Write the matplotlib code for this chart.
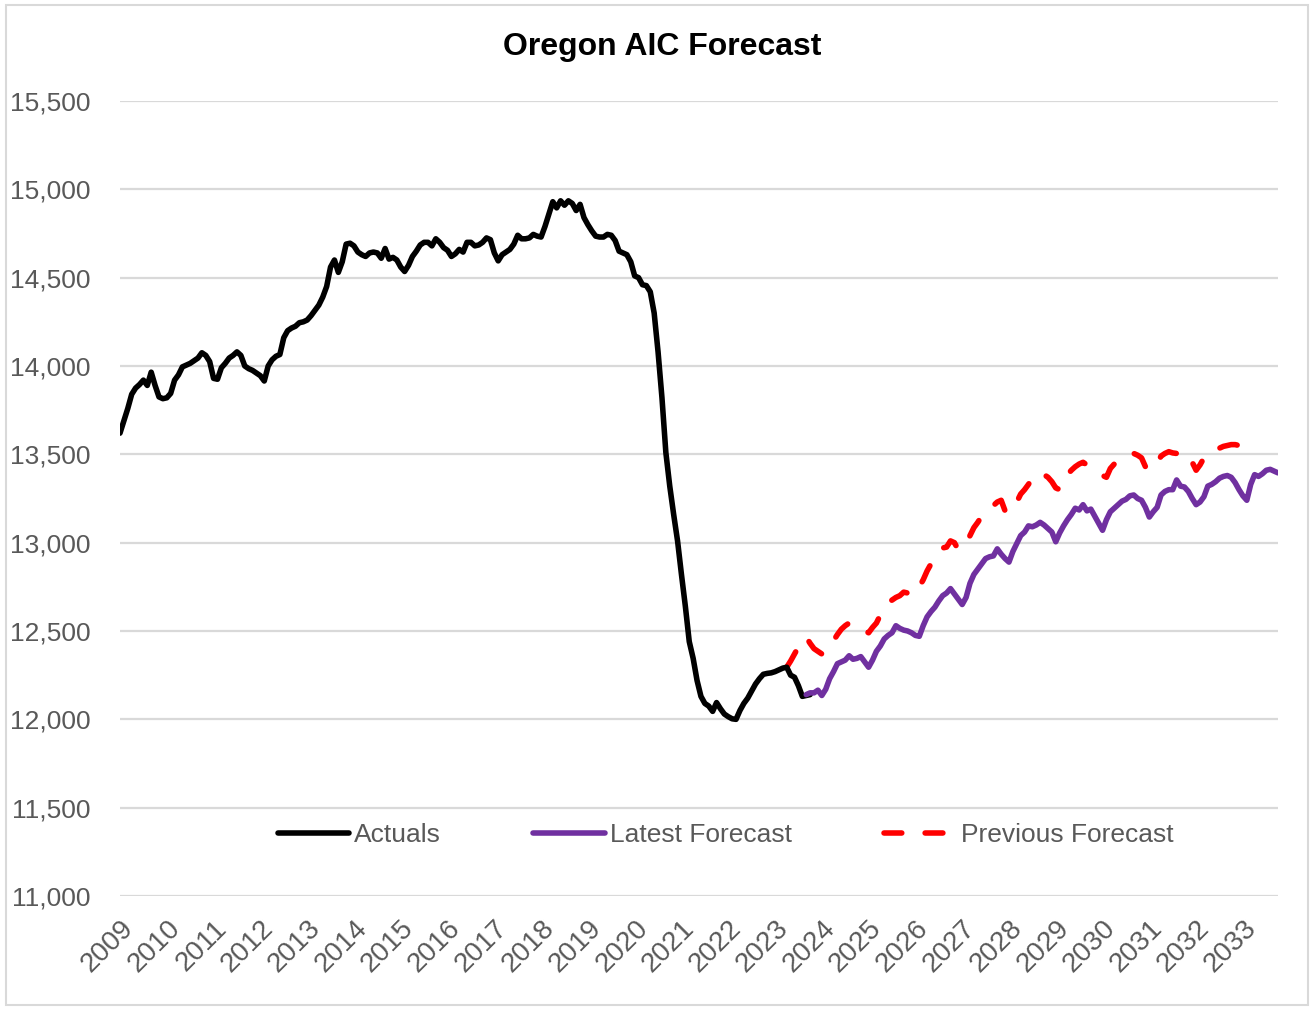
import numpy as np
import matplotlib
matplotlib.use("Agg")
import matplotlib.pyplot as plt
from matplotlib.patches import Rectangle

plt.rcParams["font.family"] = ["Liberation Sans", "DejaVu Sans"]

# monthly values, index 0 = Jan 2009
years = list(range(2009, 2034))

actuals_start = 0
actuals = [
    # 2009
    13620, 13690, 13760, 13840, 13875, 13895, 13920, 13890, 13965, 13890, 13825, 13815,
    # 2010
    13820, 13845, 13920, 13950, 13995, 14005, 14015, 14030, 14045, 14075, 14060, 14025,
    # 2011
    13930, 13925, 13990, 14015, 14045, 14060, 14080, 14060, 14000, 13985, 13975, 13960,
    # 2012
    13945, 13915, 14000, 14035, 14055, 14065, 14160, 14200, 14215, 14225, 14245, 14250,
    # 2013
    14260, 14285, 14315, 14345, 14390, 14450, 14560, 14600, 14530, 14590, 14690, 14695,
    # 2014
    14680, 14645, 14630, 14620, 14640, 14645, 14640, 14610, 14665, 14605, 14615, 14600,
    # 2015
    14560, 14535, 14570, 14620, 14650, 14685, 14700, 14700, 14680, 14720, 14700, 14670,
    # 2016
    14655, 14620, 14635, 14660, 14645, 14700, 14700, 14680, 14685, 14700, 14725, 14715,
    # 2017
    14640, 14595, 14630, 14645, 14660, 14690, 14740, 14720, 14720, 14725, 14745, 14735,
    # 2018
    14730, 14790, 14860, 14930, 14895, 14935, 14910, 14935, 14920, 14880, 14915, 14840,
    # 2019
    14800, 14765, 14735, 14730, 14730, 14745, 14740, 14710, 14650, 14640, 14630, 14590,
    # 2020
    14510, 14500, 14460, 14455, 14420, 14300, 14080, 13820, 13510, 13320, 13160, 13010,
    # 2021
    12820, 12640, 12440, 12345, 12220, 12130, 12090, 12075, 12045, 12095, 12060, 12030,
    # 2022
    12015, 12003, 12000, 12050, 12090, 12120, 12160, 12200, 12230, 12255, 12260, 12263,
    # 2023
    12270, 12280, 12290, 12295, 12250, 12238, 12190, 12130, 12135, 12140,
]

latest_start = 176
latest = [
    12140, 12150, 12150, 12165,
    12135, 12170, 12230, 12270, 12315, 12325, 12335, 12360, 12340, 12345, 12355, 12325,
    12295, 12335, 12385, 12415, 12455, 12475, 12490, 12530, 12515, 12505, 12500, 12490,
    12475, 12470, 12530, 12580, 12610, 12635, 12670, 12700, 12715, 12740, 12710, 12680,
    12650, 12690, 12770, 12820, 12850, 12880, 12910, 12920, 12925, 12965, 12935, 12910,
    12890, 12950, 12995, 13040, 13060, 13095, 13090, 13100, 13115, 13100, 13080, 13060,
    13005, 13055, 13095, 13130, 13160, 13195, 13185, 13215, 13180, 13190, 13150, 13110,
    13070, 13130, 13175, 13195, 13215, 13235, 13245, 13265, 13270, 13250, 13240, 13200,
    13145, 13175, 13200, 13270, 13290, 13300, 13300, 13355, 13320, 13315, 13290, 13250,
    13215, 13230, 13260, 13320, 13330, 13345, 13365, 13375, 13380, 13370, 13340, 13300,
    13265, 13240, 13330, 13385, 13375, 13390, 13410, 13415, 13405, 13395,
]

previous_start = 171
previous = [
    12295, 12330, 12370, 12410, 12440, 12465, 12430, 12400, 12385,
    12370, 12375, 12410, 12445, 12480, 12510, 12530, 12545, 12540, 12535, 12520, 12500,
    12490, 12520, 12545, 12590, 12630, 12660, 12675, 12690, 12700, 12720, 12715, 12710,
    12705, 12750, 12790, 12840, 12880, 12925, 12950, 12970, 12975, 13010, 13000, 12960,
    12975, 12995, 13040, 13085, 13115, 13150, 13175, 13195, 13210, 13230, 13240, 13180,
    13170, 13180, 13230, 13275, 13300, 13330, 13365, 13390, 13395, 13385, 13370, 13345,
    13310, 13300, 13340, 13385, 13410, 13430, 13445, 13455, 13440, 13430, 13420, 13400,
    13380, 13370, 13420, 13445, 13455, 13470, 13485, 13500, 13505, 13495, 13480, 13430,
    13410, 13420, 13450, 13490, 13505, 13515, 13508, 13505, 13510, 13515, 13490, 13455,
    13410, 13440, 13480, 13505, 13510, 13520, 13535, 13545, 13550, 13555, 13555, 13550,
    13545, 13545, 13545,
]

last_month = 297
gray_text = "#595959"
grid_gray = "#d9d9d9"

fig = plt.figure(figsize=(13.14, 10.09), dpi=100)
ax = fig.add_axes([120 / 1314, 1 - 896 / 1009, 1158 / 1314, 795 / 1009])

x_act = np.arange(actuals_start, actuals_start + len(actuals))
x_lat = np.arange(latest_start, latest_start + len(latest))
x_prev = np.arange(previous_start, previous_start + len(previous))

ax.plot(x_act, actuals, color="black", lw=4, solid_joinstyle="round",
        solid_capstyle="round", label="Actuals", zorder=3)
ax.plot(x_lat, latest, color="#7030A0", lw=4, solid_joinstyle="round",
        solid_capstyle="round", label="Latest Forecast", zorder=4)
ax.plot(x_prev, previous, color="#FF0000", lw=4, dashes=(3.2, 4.2),
        dash_capstyle="round", dash_joinstyle="round",
        label="Previous Forecast", zorder=2)

ax.set_xlim(0, last_month)
ax.set_ylim(11000, 15500)
ax.set_yticks(np.arange(11000, 15501, 500))
ax.yaxis.set_major_formatter(matplotlib.ticker.StrMethodFormatter("{x:,.0f}"))
ax.set_xticks(np.arange(0, 12 * len(years), 12))
ax.set_xticklabels([str(y) for y in years])

ax.grid(axis="y", color=grid_gray, lw=1.6)
ax.set_axisbelow(True)
for side in ["left", "right", "top", "bottom"]:
    ax.spines[side].set_visible(False)

ax.tick_params(axis="y", length=0, pad=21, labelsize=19, labelcolor=gray_text)
ax.tick_params(axis="x", length=0, pad=14, labelsize=20, labelcolor=gray_text)
plt.setp(ax.get_xticklabels(), rotation=45, ha="right", rotation_mode="anchor")

ax.legend(loc="center", bbox_to_anchor=(0.523, 0.077), ncol=3, frameon=False,
          fontsize=19, labelcolor=gray_text, handlelength=2.7,
          handletextpad=0.2, columnspacing=3.5)

fig.text(0.504, 1 - 47 / 1009, "Oregon AIC Forecast", ha="center", va="center",
         fontsize=23, fontweight="bold", color="black")

fig.patches.append(Rectangle((6 / 1314, 4 / 1009), 1302 / 1314, 1000 / 1009,
                             transform=fig.transFigure, fill=False,
                             edgecolor=grid_gray, lw=1.5))

fig.savefig("out.png", dpi=100)
